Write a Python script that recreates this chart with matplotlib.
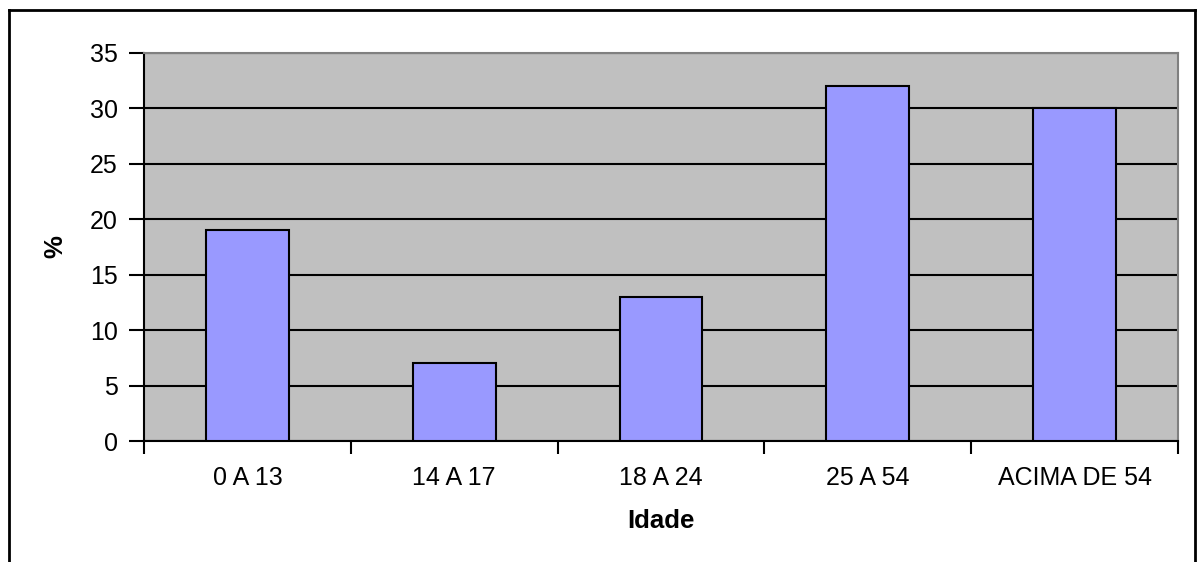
import matplotlib

matplotlib.use("Agg")
import matplotlib.pyplot as plt
from matplotlib.lines import Line2D

categories = ["0 A 13", "14 A 17", "18 A 24", "25 A 54", "ACIMA DE 54"]
percentages = [19, 7, 13, 32, 30]
y_ticks = [0, 5, 10, 15, 20, 25, 30, 35]

plt.rcParams["font.family"] = ["Liberation Sans", "DejaVu Sans"]

fig = plt.figure(figsize=(11.97, 5.62), dpi=100)
ax = fig.add_axes([0.1203, 0.2153, 0.9841 - 0.1203, 0.9057 - 0.2153])

positions = list(range(len(categories)))
ax.set_facecolor("#C0C0C0")
ax.bar(positions, percentages, width=0.4, color="#9999FF",
       edgecolor="black", linewidth=1.5, zorder=3)

ax.set_xlim(-0.5, len(categories) - 0.5)
ax.set_ylim(0, 35)
ax.set_yticks(y_ticks)
ax.yaxis.grid(True, color="black", linewidth=1.5, zorder=1)
ax.set_axisbelow(True)

# category boundaries get the tick marks, centres get the labels
ax.set_xticks([p - 0.5 for p in positions] + [len(categories) - 0.5])
ax.set_xticklabels([])
ax.set_xticks(positions, minor=True)
ax.set_xticklabels(categories, minor=True)
ax.tick_params(axis="x", which="major", length=9, width=1.5, direction="out")
ax.tick_params(axis="x", which="minor", length=0, pad=18, labelsize=18)
ax.tick_params(axis="y", length=11, width=1.5, pad=8, labelsize=18)

for side in ["left", "bottom"]:
    ax.spines[side].set_color("black")
    ax.spines[side].set_linewidth(1.5)
for side in ["top", "right"]:
    ax.spines[side].set_color("#808080")
    ax.spines[side].set_linewidth(1.5)

ax.set_xlabel("Idade", fontsize=18.5, fontweight="bold", labelpad=14)
ax.set_ylabel("%", fontsize=18.5, fontweight="bold", labelpad=16)

# outer chart border
fig.add_artist(Line2D([0.0075, 0.0075], [0.0, 0.982], color="black", linewidth=2))
fig.add_artist(Line2D([0.0075, 0.9983], [0.982, 0.982], color="black", linewidth=2))
fig.add_artist(Line2D([0.9983, 0.9983], [0.0, 0.982], color="black", linewidth=2))

fig.savefig("out.png", dpi=100)
plt.close(fig)
